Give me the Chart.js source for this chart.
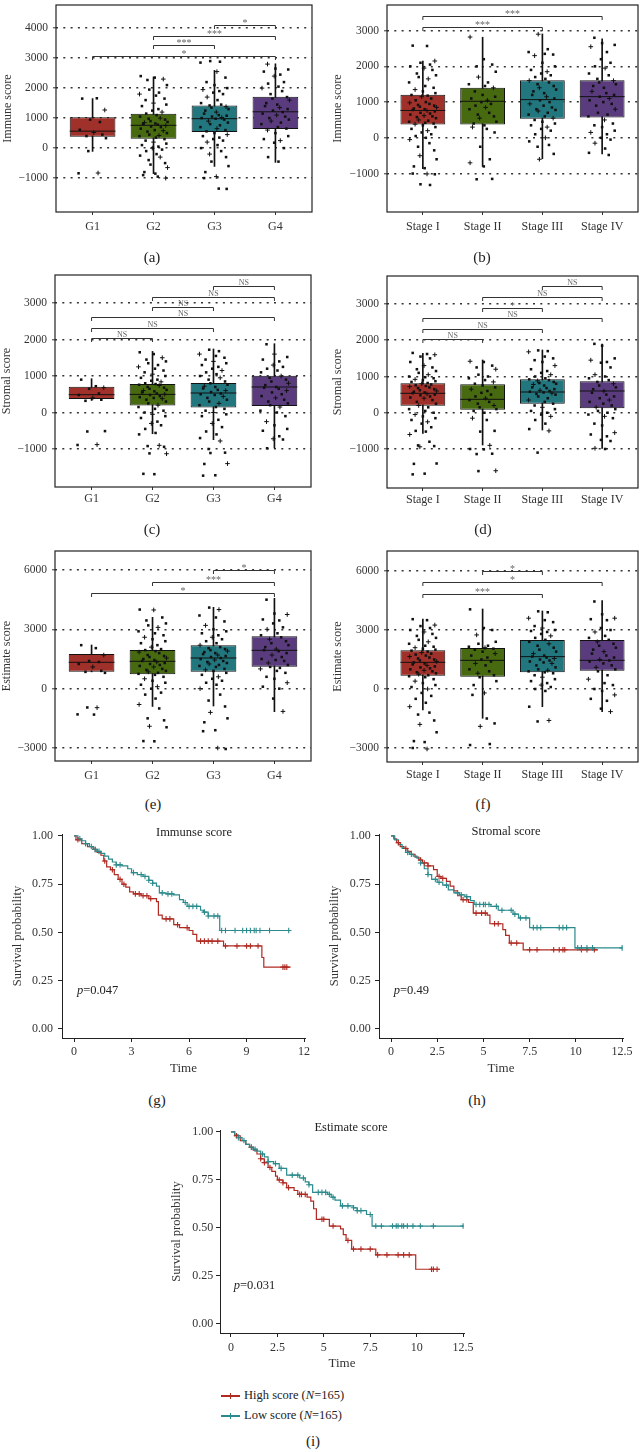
<!DOCTYPE html>
<html>
<head>
<meta charset="utf-8">
<script src="https://cdn.jsdelivr.net/npm/chart.js@4.4.0/dist/chart.umd.min.js"></script>
<style>
  body { margin: 0; background: #fff; }
  #page { position: relative; width: 643px; height: 1452px; overflow: hidden;
          font-family: "Liberation Serif", "DejaVu Serif", serif; color: #222; }
  canvas { position: absolute; }
  .txt { position: absolute; transform: translate(-50%, -50%); white-space: nowrap; }
  .cap { font-size: 15px; }
  .kmtitle { font-size: 12.5px; }
  .legrow { position: absolute; left: 221px; transform: translateY(-50%); font-size: 12.5px; line-height: 14px; white-space: nowrap; }
  .key { display: inline-block; position: relative; width: 19px; height: 1.3px; background: var(--c); vertical-align: middle; margin-right: 4px; }
  .key::after { content: ''; position: absolute; left: 8.5px; top: -2.6px; width: 1.3px; height: 6.5px; background: var(--c); }
</style>
</head>
<body>
<div id="page">
  <canvas id="cA" width="320" height="240" style="left:0;top:0"></canvas>
  <canvas id="cB" width="323" height="240" style="left:320px;top:0"></canvas>
  <canvas id="cC" width="320" height="253" style="left:0;top:262px"></canvas>
  <canvas id="cD" width="323" height="254" style="left:320px;top:262px"></canvas>
  <canvas id="cE" width="320" height="254" style="left:0;top:535px"></canvas>
  <canvas id="cF" width="323" height="255" style="left:320px;top:535px"></canvas>
  <canvas id="cG" width="320" height="262" style="left:0;top:820px"></canvas>
  <canvas id="cH" width="323" height="262" style="left:320px;top:820px"></canvas>
  <canvas id="cI" width="320" height="260" style="left:160px;top:1117px"></canvas>

  <div class="txt cap" style="left:152px;top:257px">(a)</div>
  <div class="txt cap" style="left:482px;top:257px">(b)</div>
  <div class="txt cap" style="left:152px;top:529px">(c)</div>
  <div class="txt cap" style="left:483px;top:529px">(d)</div>
  <div class="txt cap" style="left:153px;top:804px">(e)</div>
  <div class="txt cap" style="left:483px;top:804px">(f)</div>
  <div class="txt cap" style="left:157px;top:1100px">(g)</div>
  <div class="txt cap" style="left:477px;top:1100px">(h)</div>
  <div class="txt cap" style="left:313px;top:1441px">(i)</div>

  <div class="txt kmtitle" style="left:194px;top:832px">Immunse score</div>
  <div class="txt kmtitle" style="left:506px;top:831px">Stromal score</div>
  <div class="txt kmtitle" style="left:351px;top:1127px">Estimate score</div>

  <div class="legrow" style="top:1395px"><span class="key" style="--c:#b02a22"></span>High score (<i>N</i>=165)</div>
  <div class="legrow" style="top:1415px"><span class="key" style="--c:#2a8a8c"></span>Low score (<i>N</i>=165)</div>
</div>

<script>
// ---------------- data ----------------
const gradeLabels = ['G1', 'G2', 'G3', 'G4'];
const stageLabels = ['Stage I', 'Stage II', 'Stage III', 'Stage IV'];

const immuneGradeTicks = [-1000, 0, 1000, 2000, 3000, 4000];
const immuneStageTicks = [-1000, 0, 1000, 2000, 3000];
const stromalTicks = [-1000, 0, 1000, 2000, 3000];
const estimateTicks = [-3000, 0, 3000, 6000];

// [lower whisker, Q1, median, Q3, upper whisker]
const immuneGradeBox = [[-110, 380, 565, 1025, 1650], [-850, 315, 760, 1145, 2370], [-610, 540, 980, 1420, 2590], [-475, 640, 1210, 1715, 2810]];
const immuneStageBox = [[-860, 370, 766, 1207, 2145], [-800, 370, 1022, 1400, 2815], [-586, 534, 1069, 1610, 2906], [-448, 572, 1152, 1610, 2768]];
const stromalGradeBox = [[330, 370, 488, 707, 926], [-581, 195, 496, 781, 1674], [-745, 140, 534, 808, 1740], [-973, 178, 699, 1008, 1885]];
const stromalStageBox = [[-568, 195, 536, 811, 1640], [-890, 85, 370, 784, 1455], [-476, 250, 572, 922, 1731], [-981, 123, 600, 867, 1897]];
const estimateGradeBox = [[850, 858, 1333, 1753, 2208], [-900, 727, 1384, 1955, 3608], [-876, 858, 1551, 2190, 4114], [-1163, 1111, 1939, 2647, 4569]];
const estimateStageBox = [[-1070, 677, 1356, 1966, 3559], [-1489, 627, 1458, 2085, 4068], [-900, 850, 1645, 2492, 3966], [-1153, 932, 1458, 2492, 4490]];

// individual samples per group
const immuneGradePts = [
  [1650, 1660, 1270, 950, 870, 610, 520, 450, 400, 330, -100, -830, -840],
  [2400, 2350, 2300, 2270, 2100, 1950, 1850, 1800, 1750, 1650, 1600, 1500, 1450, 1400, 1300, 1250, 1200, 1150, 1100, 1050, 1000, 980, 950, 900, 870, 850, 820, 800, 780, 750, 720, 700, 650, 600, 580, 550, 500, 450, 420, 400, 350, 300, 250, 200, 150, 100, 50, 0, -50, -100, -200, -250, -300, -400, -500, -550, -650, -800, -850, -900, -950, -1000],
  [2900, 2880, 2850, 2550, 2350, 2200, 2100, 2000, 1950, 1900, 1850, 1800, 1700, 1600, 1500, 1450, 1420, 1380, 1350, 1300, 1250, 1200, 1150, 1100, 1080, 1050, 1020, 1000, 980, 950, 900, 850, 800, 760, 700, 650, 600, 560, 500, 450, 400, 350, 300, 250, 200, 100, 0, -100, -200, -300, -450, -600, -800, -950, -1000, -1350, -1360],
  [2800, 2650, 2620, 2550, 2450, 2400, 2200, 2150, 2050, 2000, 1900, 1800, 1700, 1650, 1600, 1500, 1450, 1400, 1350, 1300, 1250, 1200, 1150, 1100, 1050, 1000, 950, 900, 850, 800, 700, 650, 600, 500, 400, 300, 250, 180, 0, -300, -450]
];
const immuneStagePts = [
  [2580, 2570, 2150, 2100, 2050, 2000, 1950, 1900, 1800, 1750, 1700, 1650, 1550, 1450, 1400, 1350, 1300, 1250, 1200, 1180, 1150, 1100, 1050, 1000, 980, 950, 920, 900, 870, 850, 820, 800, 780, 760, 740, 700, 680, 650, 620, 600, 580, 550, 500, 480, 450, 420, 400, 380, 350, 300, 250, 200, 150, 100, 50, 0, -50, -150, -250, -350, -500, -600, -800, -850, -1000, -1010, -1020, -1300, -1320],
  [2820, 2200, 2050, 2000, 1850, 1700, 1550, 1500, 1450, 1400, 1300, 1200, 1150, 1100, 1050, 1000, 950, 900, 850, 800, 700, 650, 600, 550, 450, 400, 350, 300, 250, 150, -250, -600, -700, -800, -1150, -1160],
  [2900, 2480, 2400, 2350, 2330, 2300, 2100, 2000, 1900, 1850, 1800, 1750, 1700, 1650, 1600, 1550, 1500, 1450, 1400, 1350, 1300, 1250, 1200, 1150, 1100, 1050, 1000, 950, 900, 850, 800, 780, 750, 700, 650, 600, 550, 500, 450, 400, 350, 300, 250, 200, 100, 0, -100, -200, -250, -450, -600],
  [2800, 2650, 2600, 2550, 2400, 2200, 2100, 2000, 1950, 1800, 1750, 1650, 1600, 1550, 1500, 1450, 1400, 1300, 1250, 1200, 1150, 1100, 1050, 1000, 950, 900, 800, 700, 650, 600, 500, 400, 350, 300, 200, 150, 100, 0, -50, -150, -300, -420, -480]
];
const stromalGradePts = [
  [900, 720, 680, 650, 520, 480, 400, 350, 320, -510, -520, -880, -890],
  [1650, 1600, 1500, 1450, 1400, 1350, 1300, 1250, 1200, 1150, 1100, 1050, 1000, 950, 900, 870, 840, 800, 780, 760, 740, 700, 680, 650, 620, 600, 580, 550, 520, 500, 480, 450, 420, 400, 380, 350, 300, 250, 200, 150, 100, 50, 0, -50, -100, -150, -250, -300, -350, -450, -560, -600, -900, -920, -940, -1120, -1130, -1680, -1690],
  [1720, 1680, 1600, 1550, 1500, 1450, 1400, 1350, 1300, 1250, 1200, 1150, 1100, 1050, 1000, 950, 900, 850, 800, 760, 720, 700, 660, 620, 600, 560, 520, 500, 480, 440, 400, 350, 300, 250, 200, 150, 100, 50, 0, -50, -100, -200, -300, -400, -520, -600, -700, -780, -1000, -1100, -1110, -1400, -1410, -1720, -1730],
  [1870, 1600, 1520, 1450, 1400, 1300, 1250, 1200, 1150, 1100, 1000, 950, 900, 850, 800, 750, 700, 680, 650, 600, 550, 500, 450, 400, 350, 300, 250, 200, 150, 50, 0, -100, -250, -350, -450, -500, -650, -720, -740, -980]
];
const stromalStagePts = [
  [1650, 1620, 1600, 1550, 1500, 1400, 1300, 1250, 1200, 1150, 1100, 1050, 1000, 980, 950, 920, 900, 870, 850, 820, 800, 780, 760, 740, 720, 700, 680, 650, 620, 600, 580, 560, 540, 520, 500, 480, 450, 420, 400, 350, 300, 250, 200, 150, 100, 50, 0, -50, -100, -150, -200, -250, -300, -400, -500, -520, -600, -800, -900, -920, -940, -1400, -1410, -1680, -1700],
  [1420, 1400, 1300, 1250, 1200, 1050, 1000, 950, 900, 850, 800, 750, 700, 650, 600, 550, 500, 450, 400, 350, 300, 250, 200, 150, 100, 50, 0, -150, -200, -500, -520, -900, -1000, -1010, -1130, -1140, -1600, -1610],
  [1720, 1700, 1680, 1550, 1500, 1450, 1400, 1300, 1200, 1150, 1100, 1050, 1000, 950, 920, 900, 880, 850, 820, 800, 780, 750, 700, 680, 650, 620, 600, 580, 560, 540, 520, 500, 450, 400, 350, 300, 250, 200, 150, 100, 50, 0, -50, -100, -200, -300, -450, -500, -1100],
  [1900, 1850, 1500, 1450, 1400, 1380, 1250, 1050, 1000, 950, 900, 850, 800, 750, 700, 650, 600, 550, 500, 450, 400, 350, 300, 250, 200, 150, 100, 50, 0, -50, -100, -150, -300, -350, -550, -600, -650, -750, -780, -980, -1000]
];
const estimateGradePts = [
  [2200, 2050, 1700, 1400, 1350, 1250, 1100, 900, 850, 800, -950, -960, -1300, -1310],
  [4000, 3980, 3600, 3450, 3300, 3200, 3100, 2900, 2800, 2700, 2600, 2500, 2400, 2300, 2200, 2100, 2000, 1950, 1900, 1850, 1800, 1700, 1650, 1600, 1550, 1500, 1450, 1400, 1350, 1300, 1250, 1200, 1150, 1100, 1000, 950, 900, 850, 800, 750, 700, 600, 500, 400, 300, 200, 100, 0, -200, -300, -500, -800, -1000, -1500, -1600, -1900, -1950, -2650, -2660],
  [4100, 4000, 3700, 3600, 3400, 3200, 3000, 2900, 2800, 2700, 2600, 2500, 2400, 2300, 2200, 2100, 2050, 2000, 1950, 1900, 1850, 1800, 1750, 1700, 1650, 1600, 1550, 1500, 1450, 1400, 1350, 1300, 1250, 1200, 1150, 1100, 1000, 950, 900, 800, 700, 600, 500, 400, 300, 200, 0, -300, -600, -900, -1200, -1500, -1700, -2100, -2150, -3000, -3050],
  [4500, 3800, 3750, 3500, 3450, 3300, 3100, 3000, 2800, 2700, 2600, 2500, 2400, 2300, 2200, 2100, 2000, 1950, 1900, 1800, 1700, 1600, 1500, 1450, 1400, 1300, 1200, 1100, 1050, 1000, 900, 800, 600, 500, 300, 100, 0, -500, -1150]
];
const estimateStagePts = [
  [3550, 3500, 3250, 3200, 3100, 3000, 2900, 2800, 2700, 2600, 2500, 2400, 2300, 2200, 2150, 2100, 2050, 2000, 1950, 1900, 1850, 1800, 1750, 1700, 1650, 1600, 1550, 1500, 1450, 1400, 1350, 1300, 1250, 1200, 1150, 1100, 1050, 1000, 950, 900, 850, 800, 750, 700, 650, 600, 500, 400, 300, 200, 100, 0, -200, -350, -500, -700, -900, -1200, -1300, -1600, -1800, -2200, -2650, -2700, -3000, -3050],
  [4050, 3100, 3000, 2750, 2400, 2300, 2200, 2150, 2100, 2050, 2000, 1900, 1800, 1700, 1600, 1500, 1400, 1300, 1200, 1000, 900, 800, 700, 600, 400, 200, -200, -300, -1500, -1750, -1900, -2800, -2850],
  [3950, 3900, 3600, 3500, 3400, 3200, 3100, 3000, 2950, 2900, 2800, 2700, 2600, 2500, 2400, 2300, 2200, 2100, 2000, 1900, 1800, 1700, 1650, 1600, 1550, 1500, 1450, 1400, 1350, 1300, 1200, 1100, 1000, 950, 900, 850, 800, 700, 600, 500, 400, 300, 200, 100, 0, -100, -900, -1600, -1650],
  [4450, 3800, 3600, 3550, 3500, 3100, 3000, 2900, 2700, 2600, 2500, 2400, 2300, 2200, 2100, 2000, 1900, 1800, 1700, 1600, 1500, 1450, 1400, 1300, 1200, 1100, 1000, 900, 700, 500, 300, 200, 0, -100, -300, -500, -600, -1000, -1150]
];

// significance brackets: [group from, group to, height, label]
const immuneGradeSig = [[3, 4, 4090, '*'], [2, 4, 3750, '***'], [2, 3, 3430, '***'], [1, 4, 3080, '*']];
const immuneStageSig = [[1, 4, 3420, '***'], [1, 3, 3115, '***']];
const stromalGradeSig = [[3, 4, 3470, 'NS'], [2, 4, 3172, 'NS'], [2, 3, 2890, 'NS'], [1, 4, 2608, 'NS'], [1, 3, 2315, 'NS'], [1, 2, 2033, 'NS']];
const stromalStageSig = [[3, 4, 3497, 'NS'], [2, 4, 3193, 'NS'], [2, 3, 2898, '*'], [1, 4, 2614, 'NS'], [1, 3, 2320, 'NS'], [1, 2, 2035, 'NS']];
const estimateGradeSig = [[3, 4, 6000, '*'], [2, 4, 5410, '***'], [1, 4, 4820, '*']];
const estimateStageSig = [[2, 3, 6000, '*'], [1, 4, 5425, '*'], [1, 3, 4815, '***']];

// Kaplan-Meier curves: step times and survival after each step, plus censor times
const immuneHighT = [0, 0.1, 0.4, 0.7, 1.0, 1.2, 1.4, 1.55, 1.7, 1.9, 2.1, 2.3, 2.5, 2.7, 2.9, 3.1, 3.5, 3.9, 4.3, 4.4, 4.6, 5.2, 5.5, 6.0, 6.2, 6.4, 7.8, 9.8, 9.9, 11.3];
const immuneHighS = [1, 0.98, 0.96, 0.945, 0.93, 0.915, 0.9, 0.87, 0.84, 0.825, 0.8, 0.775, 0.75, 0.735, 0.71, 0.70, 0.69, 0.675, 0.66, 0.59, 0.57, 0.54, 0.525, 0.51, 0.49, 0.455, 0.43, 0.37, 0.32, 0.32];
const immuneHighCens = [0.2, 1.1, 1.6, 2.0, 2.4, 2.6, 3.2, 3.4, 3.6, 3.8, 4.0, 4.8, 5.0, 5.4, 5.9, 6.6, 6.8, 7.0, 7.2, 7.5, 7.9, 8.5, 9.0, 9.2, 9.6, 10.9, 11.0, 11.1];
const immuneLowT = [0, 0.2, 0.4, 0.6, 0.8, 1.0, 1.2, 1.4, 1.6, 1.8, 2.0, 2.2, 2.5, 2.8, 3.0, 3.3, 3.6, 3.9, 4.1, 4.3, 4.45, 4.8, 5.2, 5.5, 5.7, 5.9, 6.6, 6.75, 7.0, 7.6, 11.25];
const immuneLowS = [1, 0.985, 0.975, 0.96, 0.945, 0.93, 0.92, 0.91, 0.895, 0.88, 0.865, 0.85, 0.845, 0.83, 0.81, 0.80, 0.79, 0.77, 0.755, 0.74, 0.705, 0.70, 0.695, 0.67, 0.655, 0.635, 0.615, 0.605, 0.585, 0.51, 0.51];
const immuneLowCens = [0.3, 0.6, 0.9, 1.1, 1.3, 2.2, 2.4, 3.1, 3.5, 3.7, 3.9, 4.1, 4.6, 4.9, 5.1, 5.8, 6.0, 6.2, 6.4, 6.8, 7.0, 7.3, 7.5, 7.7, 7.9, 8.4, 8.8, 9.0, 9.2, 9.4, 9.5, 9.7, 10.2, 11.2];

const stromalHighT = [0, 0.15, 0.3, 0.5, 0.7, 0.9, 1.1, 1.3, 1.5, 1.7, 2.0, 2.3, 2.5, 2.7, 3.0, 3.2, 3.4, 3.6, 3.8, 4.2, 4.45, 5.2, 5.35, 6.05, 6.2, 6.4, 7.15, 11.2];
const stromalHighS = [1, 0.985, 0.965, 0.945, 0.935, 0.92, 0.905, 0.89, 0.875, 0.86, 0.845, 0.825, 0.79, 0.78, 0.765, 0.74, 0.715, 0.69, 0.67, 0.655, 0.6, 0.59, 0.545, 0.515, 0.485, 0.445, 0.41, 0.41];
const stromalHighCens = [0.4, 0.8, 1.6, 1.8, 2.0, 2.6, 2.8, 3.9, 4.1, 4.6, 4.9, 5.1, 5.6, 5.8, 6.5, 6.8, 7.5, 7.9, 8.8, 9.1, 9.3, 9.4, 10.3, 10.6, 11.0];
const stromalLowT = [0, 0.2, 0.4, 0.6, 0.8, 1.0, 1.2, 1.4, 1.6, 1.8, 2.0, 2.2, 2.5, 2.8, 3.1, 3.4, 3.7, 4.0, 4.3, 4.5, 5.4, 5.8, 6.6, 6.9, 7.5, 9.95, 12.5];
const stromalLowS = [1, 0.98, 0.955, 0.935, 0.915, 0.905, 0.895, 0.885, 0.86, 0.83, 0.8, 0.775, 0.76, 0.745, 0.72, 0.705, 0.695, 0.685, 0.665, 0.645, 0.635, 0.615, 0.595, 0.575, 0.525, 0.42, 0.42];
const stromalLowCens = [0.9, 1.1, 1.6, 2.0, 2.4, 2.6, 3.0, 3.6, 3.8, 4.1, 4.6, 4.8, 5.0, 5.1, 5.3, 5.7, 6.0, 6.5, 6.7, 7.0, 7.3, 7.7, 7.9, 8.1, 9.1, 9.3, 9.5, 10.1, 10.3, 10.6, 10.9, 12.5];

const estimateHighT = [0, 0.2, 0.5, 0.8, 1.0, 1.2, 1.4, 1.6, 1.8, 2.0, 2.2, 2.4, 2.5, 2.8, 3.0, 3.4, 3.6, 4.1, 4.3, 4.45, 4.6, 5.3, 5.9, 6.05, 6.2, 6.5, 7.8, 9.95, 11.25];
const estimateHighS = [1, 0.98, 0.955, 0.935, 0.92, 0.905, 0.885, 0.86, 0.84, 0.815, 0.795, 0.77, 0.75, 0.735, 0.71, 0.695, 0.675, 0.66, 0.64, 0.6, 0.545, 0.51, 0.495, 0.465, 0.435, 0.39, 0.36, 0.285, 0.285];
const estimateHighCens = [0.3, 1.1, 1.6, 1.8, 2.1, 2.6, 2.8, 3.1, 3.7, 3.8, 4.0, 4.9, 5.0, 5.5, 6.3, 6.6, 7.0, 7.5, 7.9, 8.4, 9.0, 9.3, 9.6, 10.8, 10.9, 11.1];
const estimateLowT = [0, 0.2, 0.4, 0.6, 0.8, 1.0, 1.2, 1.4, 1.6, 1.8, 2.0, 2.3, 2.6, 3.0, 3.7, 4.0, 4.2, 4.4, 5.2, 5.4, 5.6, 5.9, 6.6, 6.8, 7.3, 7.6, 12.5];
const estimateLowS = [1, 0.985, 0.97, 0.955, 0.935, 0.92, 0.91, 0.9, 0.885, 0.87, 0.845, 0.835, 0.81, 0.775, 0.76, 0.74, 0.725, 0.685, 0.675, 0.66, 0.645, 0.615, 0.605, 0.59, 0.57, 0.51, 0.51];
const estimateLowCens = [0.4, 0.7, 1.1, 1.3, 1.7, 2.0, 2.4, 2.7, 3.3, 3.6, 3.9, 4.2, 4.7, 4.9, 5.1, 5.3, 5.5, 6.0, 6.3, 6.6, 6.8, 7.0, 7.5, 7.8, 8.1, 8.7, 8.9, 9.0, 9.2, 9.3, 9.5, 9.8, 10.2, 10.9, 12.5];

const kmTicks12 = [0, 3, 6, 9, 12];
const kmTicks125 = [0, 2.5, 5, 7.5, 10, 12.5];
const survTicks = [0, 0.25, 0.5, 0.75, 1];
const pValues = ['0.047', '0.49', '0.031'];

// ---------------- style ----------------
Chart.defaults.font.family = '"Liberation Serif", "DejaVu Serif", serif';
Chart.defaults.color = '#333';

const boxFill = ['#a0302a', '#476a10', '#22777f', '#5a3c7e'];
const highColor = '#b02a22';
const lowColor = '#2a8a8c';
const jitterOffsets = [-0.17, 0.07, 0.2, -0.04, 0.12, -0.21, 0.02, 0.16, -0.1, 0.22, -0.07, 0.09, -0.23, 0.04, 0.18, -0.13, 0.0, 0.21, -0.19, 0.08, -0.02, 0.14, -0.12, 0.05, -0.22, 0.11, -0.08, 0.19, -0.05, 0.23, -0.15, 0.03];
const markerCycle = ['rect', 'rect', 'cross', 'rect', 'rect', 'rect', 'cross', 'rect', 'rect'];

const frame = {
  id: 'frame',
  afterDraw(chart) {
    const { ctx, chartArea: a } = chart;
    ctx.save();
    ctx.strokeStyle = '#222';
    ctx.lineWidth = 1.2;
    ctx.strokeRect(a.left, a.top, a.right - a.left, a.bottom - a.top);
    ctx.restore();
  }
};

// median line across each box, drawn right after the box dataset
const medians = {
  id: 'medians',
  afterDatasetDraw(chart, args, opts) {
    if (args.index !== 1) return;
    const { ctx, scales: { y } } = chart;
    ctx.save();
    ctx.strokeStyle = '#111';
    ctx.lineWidth = 1;
    args.meta.data.forEach((bar, i) => {
      const py = y.getPixelForValue(opts.values[i]);
      ctx.beginPath();
      ctx.moveTo(bar.x - bar.width / 2, py);
      ctx.lineTo(bar.x + bar.width / 2, py);
      ctx.stroke();
    });
    ctx.restore();
  }
};

const brackets = {
  id: 'brackets',
  afterDatasetsDraw(chart, args, opts) {
    const { ctx, scales: { x, y } } = chart;
    ctx.save();
    ctx.strokeStyle = '#333';
    ctx.lineWidth = 1;
    ctx.fillStyle = '#666';
    ctx.textAlign = 'center';
    ctx.textBaseline = 'alphabetic';
    opts.items.forEach(([a, b, v, label]) => {
      const xa = x.getPixelForValue(a), xb = x.getPixelForValue(b), py = Math.round(y.getPixelForValue(v)) + 0.5;
      ctx.beginPath();
      ctx.moveTo(xa, py + 3.5);
      ctx.lineTo(xa, py);
      ctx.lineTo(xb, py);
      ctx.lineTo(xb, py + 3.5);
      ctx.stroke();
      if (label === 'NS') {
        ctx.font = '8px "Liberation Serif"';
        ctx.fillText(label, (xa + xb) / 2, py - 1.5);
      } else {
        ctx.font = '10px "Liberation Serif"';
        ctx.fillText(label, (xa + xb) / 2, py + 0.5);
      }
    });
    ctx.restore();
  }
};

const pval = {
  id: 'pval',
  afterDatasetsDraw(chart, args, opts) {
    const { ctx, scales: { x, y } } = chart;
    let px = x.getPixelForValue(opts.at[0]);
    const py = y.getPixelForValue(opts.at[1]);
    ctx.save();
    ctx.fillStyle = '#222';
    ctx.textBaseline = 'middle';
    ctx.textAlign = 'left';
    ctx.font = 'italic 12.5px "Liberation Serif"';
    ctx.fillText('p', px, py);
    px += ctx.measureText('p').width;
    ctx.font = '12.5px "Liberation Serif"';
    ctx.fillText('=' + opts.text, px, py);
    ctx.restore();
  }
};

const minus = v => (v < 0 ? '\u2212' + Math.abs(v) : String(v));

function boxChart(id, p) {
  const pts = [];
  p.points.forEach((vals, g) => vals.forEach((v, i) => {
    pts.push({ x: g + 1 + jitterOffsets[(i + g * 5) % jitterOffsets.length], y: v });
  }));
  const isCross = c => markerCycle[c.dataIndex % markerCycle.length] === 'cross';
  return new Chart(document.getElementById(id), {
    type: 'bar',
    data: {
      datasets: [
        { data: p.box.map((s, i) => ({ x: i + 1, y: [s[0], s[4]] })), backgroundColor: '#111',
          barThickness: 1, grouped: false, order: 3 },
        { data: p.box.map((s, i) => ({ x: i + 1, y: [s[1], s[3]] })), backgroundColor: boxFill,
          borderColor: '#111', borderWidth: 1, borderSkipped: false,
          categoryPercentage: 1, barPercentage: 0.75, grouped: false, order: 2 },
        { type: 'scatter', data: pts, order: 0,
          pointStyle: c => markerCycle[c.dataIndex % markerCycle.length],
          pointRadius: c => (isCross(c) ? 2.3 : 1.8),
          borderWidth: c => (isCross(c) ? 1 : 0),
          backgroundColor: '#111', borderColor: '#111' }
      ]
    },
    options: {
      responsive: false, animation: false, events: [], devicePixelRatio: 1,
      layout: { padding: { left: 0, right: p.padR, top: p.padT, bottom: 0 } },
      plugins: {
        legend: { display: false }, tooltip: { enabled: false },
        medians: { values: p.box.map(s => s[2]) },
        brackets: { items: p.sig }
      },
      scales: {
        x: {
          type: 'linear', min: 0.4, max: 4.6, offset: false,
          afterBuildTicks: ax => { ax.ticks = p.cats.map((c, i) => ({ value: i + 1 })); },
          afterFit: ax => { ax.height = 28; ax.paddingLeft = 0; ax.paddingRight = 0; },
          grid: { offset: false, drawOnChartArea: false, drawTicks: true, tickLength: 3, tickColor: '#333', tickWidth: 1 },
          border: { display: false },
          ticks: { autoSkip: false, maxRotation: 0, padding: p.xPad, color: '#333', font: { size: 12 },
                   callback: v => p.cats[v - 1] }
        },
        y: {
          min: p.yMin, max: p.yMax,
          afterBuildTicks: ax => { ax.ticks = p.yTicks.map(v => ({ value: v })); },
          afterFit: ax => { ax.width = p.yW; ax.paddingTop = 0; ax.paddingBottom = 0; },
          grid: { color: '#333', lineWidth: 1.6, drawTicks: true, tickLength: 3, tickColor: '#333', tickWidth: 1 },
          border: { display: false, dash: [2, 5.3] },
          ticks: { padding: 5, color: '#333', font: { size: 11.5 }, callback: v => minus(v) },
          title: { display: true, text: p.yTitle, color: '#333', font: { size: 12 }, padding: { top: p.tPad, bottom: 0 } }
        }
      }
    },
    plugins: [frame, medians, brackets]
  });
}

const stepAt = (T, S, t) => {
  let v = S[0];
  T.forEach((tt, i) => { if (tt <= t) v = S[i]; });
  return v;
};

function kmChart(id, p) {
  const curve = (T, S) => T.map((t, i) => ({ x: t, y: S[i] }));
  const marks = (C, T, S) => C.map(t => ({ x: t, y: stepAt(T, S, t) }));
  const line = col => ({ borderColor: col, borderWidth: 1.2, pointRadius: 0, stepped: 'before', fill: false });
  const cens = col => ({ type: 'scatter', showLine: false, pointStyle: 'cross', pointRadius: 2.8,
                         borderColor: col, backgroundColor: col, borderWidth: 1.1 });
  return new Chart(document.getElementById(id), {
    type: 'line',
    data: {
      datasets: [
        Object.assign({ data: curve(p.highT, p.highS), order: 3 }, line(highColor)),
        Object.assign({ data: curve(p.lowT, p.lowS), order: 2 }, line(lowColor)),
        Object.assign({ data: marks(p.highC, p.highT, p.highS), order: 1 }, cens(highColor)),
        Object.assign({ data: marks(p.lowC, p.lowT, p.lowS), order: 0 }, cens(lowColor))
      ]
    },
    options: {
      responsive: false, animation: false, events: [], devicePixelRatio: 1,
      layout: { padding: { left: 0, right: p.padR, top: p.padT, bottom: 0 } },
      plugins: { legend: { display: false }, tooltip: { enabled: false }, pval: { at: [0.15, 0.2], text: p.pv } },
      scales: {
        x: {
          type: 'linear', min: p.xMin, max: p.xMax,
          afterBuildTicks: ax => { ax.ticks = p.xTicks.map(v => ({ value: v })); },
          afterFit: ax => { ax.height = 44; ax.paddingLeft = 0; ax.paddingRight = 0; },
          grid: { drawOnChartArea: false, drawTicks: true, tickLength: 4, tickColor: '#222', tickWidth: 1 },
          border: { display: true, color: '#222', width: 1 },
          ticks: { padding: p.xPad, color: '#333', font: { size: 12 }, maxRotation: 0, autoSkip: false },
          title: { display: true, text: 'Time', color: '#333', font: { size: 13 }, padding: { top: 0, bottom: 6 } }
        },
        y: {
          min: -0.047, max: 1.01,
          afterBuildTicks: ax => { ax.ticks = survTicks.map(v => ({ value: v })); },
          afterFit: ax => { ax.width = p.yW; ax.paddingTop = 0; ax.paddingBottom = 0; },
          grid: { drawOnChartArea: false, drawTicks: true, tickLength: 4, tickColor: '#222', tickWidth: 1 },
          border: { display: true, color: '#222', width: 1 },
          ticks: { padding: p.yPad, color: '#333', font: { size: 12 }, callback: v => v.toFixed(2) },
          title: { display: true, text: 'Survival probability', color: '#333', font: { size: 12.5 },
                   padding: { top: p.tPad, bottom: 0 } }
        }
      }
    },
    plugins: [pval]
  });
}

boxChart('cA', { cats: gradeLabels, box: immuneGradeBox, points: immuneGradePts, sig: immuneGradeSig,
  yTicks: immuneGradeTicks, yMin: -2130, yMax: 4770, yTitle: 'Immune score',
  yW: 56, padR: 8, padT: 2, xPad: 4.8, tPad: 0.8 });
boxChart('cB', { cats: stageLabels, box: immuneStageBox, points: immuneStagePts, sig: immuneStageSig,
  yTicks: immuneStageTicks, yMin: -2076, yMax: 3717, yTitle: 'Immune score',
  yW: 67, padR: 1, padT: 2, xPad: 4.5, tPad: 10.8 });
boxChart('cC', { cats: gradeLabels, box: stromalGradeBox, points: stromalGradePts, sig: stromalGradeSig,
  yTicks: stromalTicks, yMin: -2041, yMax: 3767, yTitle: 'Stromal score',
  yW: 55, padR: 9, padT: 13, xPad: 1.8, tPad: 0 });
boxChart('cD', { cats: stageLabels, box: stromalStageBox, points: stromalStagePts, sig: stromalStageSig,
  yTicks: stromalTicks, yMin: -2076, yMax: 3772, yTitle: 'Stromal score',
  yW: 67, padR: 1, padT: 14, xPad: 1.8, tPad: 10.8 });
boxChart('cE', { cats: gradeLabels, box: estimateGradeBox, points: estimateGradePts, sig: estimateGradeSig,
  yTicks: estimateTicks, yMin: -3657, yMax: 6961, yTitle: 'Estimate score',
  yW: 55, padR: 9, padT: 16, xPad: 4.8, tPad: 0 });
boxChart('cF', { cats: stageLabels, box: estimateStageBox, points: estimateStagePts, sig: estimateStageSig,
  yTicks: estimateTicks, yMin: -3712, yMax: 7017, yTitle: 'Estimate score',
  yW: 67, padR: 1, padT: 16, xPad: 2.8, tPad: 10.8 });

kmChart('cG', { highT: immuneHighT, highS: immuneHighS, highC: immuneHighCens,
  lowT: immuneLowT, lowS: immuneLowS, lowC: immuneLowCens, pv: pValues[0],
  xTicks: kmTicks12, xMin: -0.63, xMax: 12.05, yW: 62, padR: 15, padT: 14, xPad: 2.8, yPad: 5, tPad: 10.5 });
kmChart('cH', { highT: stromalHighT, highS: stromalHighS, highC: stromalHighCens,
  lowT: stromalLowT, lowS: stromalLowS, lowC: stromalLowCens, pv: pValues[1],
  xTicks: kmTicks125, xMin: -0.65, xMax: 12.55, yW: 59, padR: 20, padT: 14, xPad: 2.8, yPad: 4.3, tPad: 7.5 });
kmChart('cI', { highT: estimateHighT, highS: estimateHighS, highC: estimateHighCens,
  lowT: estimateLowT, lowS: estimateLowS, lowC: estimateLowCens, pv: pValues[2],
  xTicks: kmTicks125, xMin: -0.59, xMax: 12.55, yW: 60, padR: 16, padT: 13, xPad: 3.8, yPad: 2.7, tPad: 9.2 });
</script>
</body>
</html>
